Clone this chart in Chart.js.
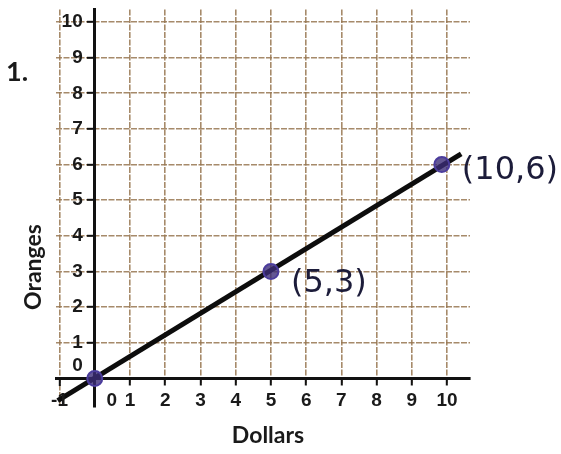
<!DOCTYPE html>
<html><head><meta charset="utf-8">
<script src="https://cdn.jsdelivr.net/npm/chart.js@4"></script>
<style>html,body{margin:0;padding:0;background:#fff}#wrap{width:561px;height:454px;position:relative}</style>
</head><body><div id="wrap"><canvas id="c" width="561" height="454"></canvas></div>
<script>
// ---- data ----
const lineX = [-1.05, 10.4];
const lineY = [-0.62, 6.3];
const pointX = [0, 5, 9.85];
const pointY = [0, 3, 6];
const pointLabels = ['', '(5,3)', '(10,6)'];
const xTicks = [-1, 0, 1, 2, 3, 4, 5, 6, 7, 8, 9, 10];
const yTicks = [0, 1, 2, 3, 4, 5, 6, 7, 8, 9, 10];
const xTitle = 'Dollars';
const yTitle = 'Oranges';
const problemNo = '1.';

const gridColor = 'rgba(150,118,80,0.85)';

const maskPlugin = {
  id: 'mask',
  beforeDatasetsDraw(chart) {
    const ctx = chart.ctx, a = chart.chartArea;
    const x0 = chart.scales.x.getPixelForValue(0), y0 = chart.scales.y.getPixelForValue(0);
    ctx.save();
    ctx.fillStyle = '#fff';
    ctx.fillRect(a.left + 6, y0 + 7, x0 - 2 - a.left - 6, a.bottom - y0);
    ctx.fillRect(x0 + 2, y0 + 7, a.right - x0, a.bottom - y0);
    ctx.restore();
  }
};

const textPlugin = {
  id: 'texts',
  afterDraw(chart) {
    const ctx = chart.ctx;
    const xs = chart.scales.x, ys = chart.scales.y;
    const x0 = xs.getPixelForValue(0), y0 = ys.getPixelForValue(0);
    ctx.save();
    ctx.fillStyle = '#1a1a1a';
    // tick labels
    ctx.font = 'bold 19px "Liberation Sans"';
    ctx.textAlign = 'center'; ctx.textBaseline = 'middle';
    xTicks.forEach(v => {
      const px = xs.getPixelForValue(v) + (v === 0 ? 17 : 0);
      ctx.fillText(String(v), px, y0 + 22);
    });
    ctx.textAlign = 'right';
    yTicks.forEach(v => {
      const py = ys.getPixelForValue(v) - (v === 0 ? 13 : 0);
      ctx.fillText(String(v), x0 - 12, py);
    });
    // titles
    ctx.font = 'bold 27px Lato';
    ctx.textAlign = 'left';
    ctx.fillText(problemNo, 6, 72);
    ctx.font = 'bold 23px Lato';
    ctx.textAlign = 'center';
    ctx.fillText(xTitle, 268, 436);
    ctx.save();
    ctx.translate(34, 267);
    ctx.rotate(-Math.PI / 2);
    ctx.fillText(yTitle, 0, 0);
    ctx.restore();
    // handwritten annotations
    ctx.fillStyle = '#1c1c3a';
    ctx.font = '32px "DejaVu Sans"';
    ctx.textAlign = 'left';
    pointLabels.forEach((t, i) => {
      if (!t) return;
      const px = xs.getPixelForValue(pointX[i]);
      const py = ys.getPixelForValue(pointY[i]);
      ctx.fillText(t, px + 20, py + 12 - (i === 2 ? 6 : 0));
    });
    ctx.restore();
  }
};

new Chart(document.getElementById('c'), {
  type: 'scatter',
  data: {
    datasets: [
      {
        data: lineX.map((x, i) => ({x, y: lineY[i]})),
        showLine: true, borderColor: '#0d0d0d', borderWidth: 5,
        pointRadius: 0, order: 2
      },
      {
        data: pointX.map((x, i) => ({x, y: pointY[i]})),
        showLine: false, pointRadius: 7.5, pointBorderWidth: 2,
        pointBorderColor: '#4b3c9c', pointBackgroundColor: 'rgba(60,45,120,0.8)',
        order: 1
      }
    ]
  },
  options: {
    responsive: false, animation: false, devicePixelRatio: 1,
    layout: {padding: {left: 56, right: 91, top: 5, bottom: 47}},
    plugins: {legend: {display: false}, tooltip: {enabled: false}},
    scales: {
      x: {
        type: 'linear', min: -1.1, max: 10.65,
        position: {y: 0},
        afterBuildTicks: s => { s.ticks = xTicks.map(v => ({value: v})); },
        ticks: {display: false},
        grid: {color: ctx => ctx.tick && ctx.tick.value === 0 ? 'rgba(0,0,0,0)' : gridColor,
               lineWidth: 1.6, tickColor: '#111', tickLength: 6, tickWidth: 2},
        border: {color: '#111', width: 3, dash: [6, 1.5]}
      },
      y: {
        type: 'linear', min: -0.8, max: 10.35,
        position: {x: 0},
        afterBuildTicks: s => { s.ticks = yTicks.map(v => ({value: v})); },
        ticks: {display: false},
        grid: {color: ctx => ctx.tick && ctx.tick.value === 0 ? 'rgba(0,0,0,0)' : gridColor,
               lineWidth: 1.6, tickColor: '#111', tickLength: 6, tickWidth: 2},
        border: {color: '#111', width: 3, dash: [6, 1.5]}
      }
    }
  },
  plugins: [maskPlugin, textPlugin]
});
</script>
</body></html>
